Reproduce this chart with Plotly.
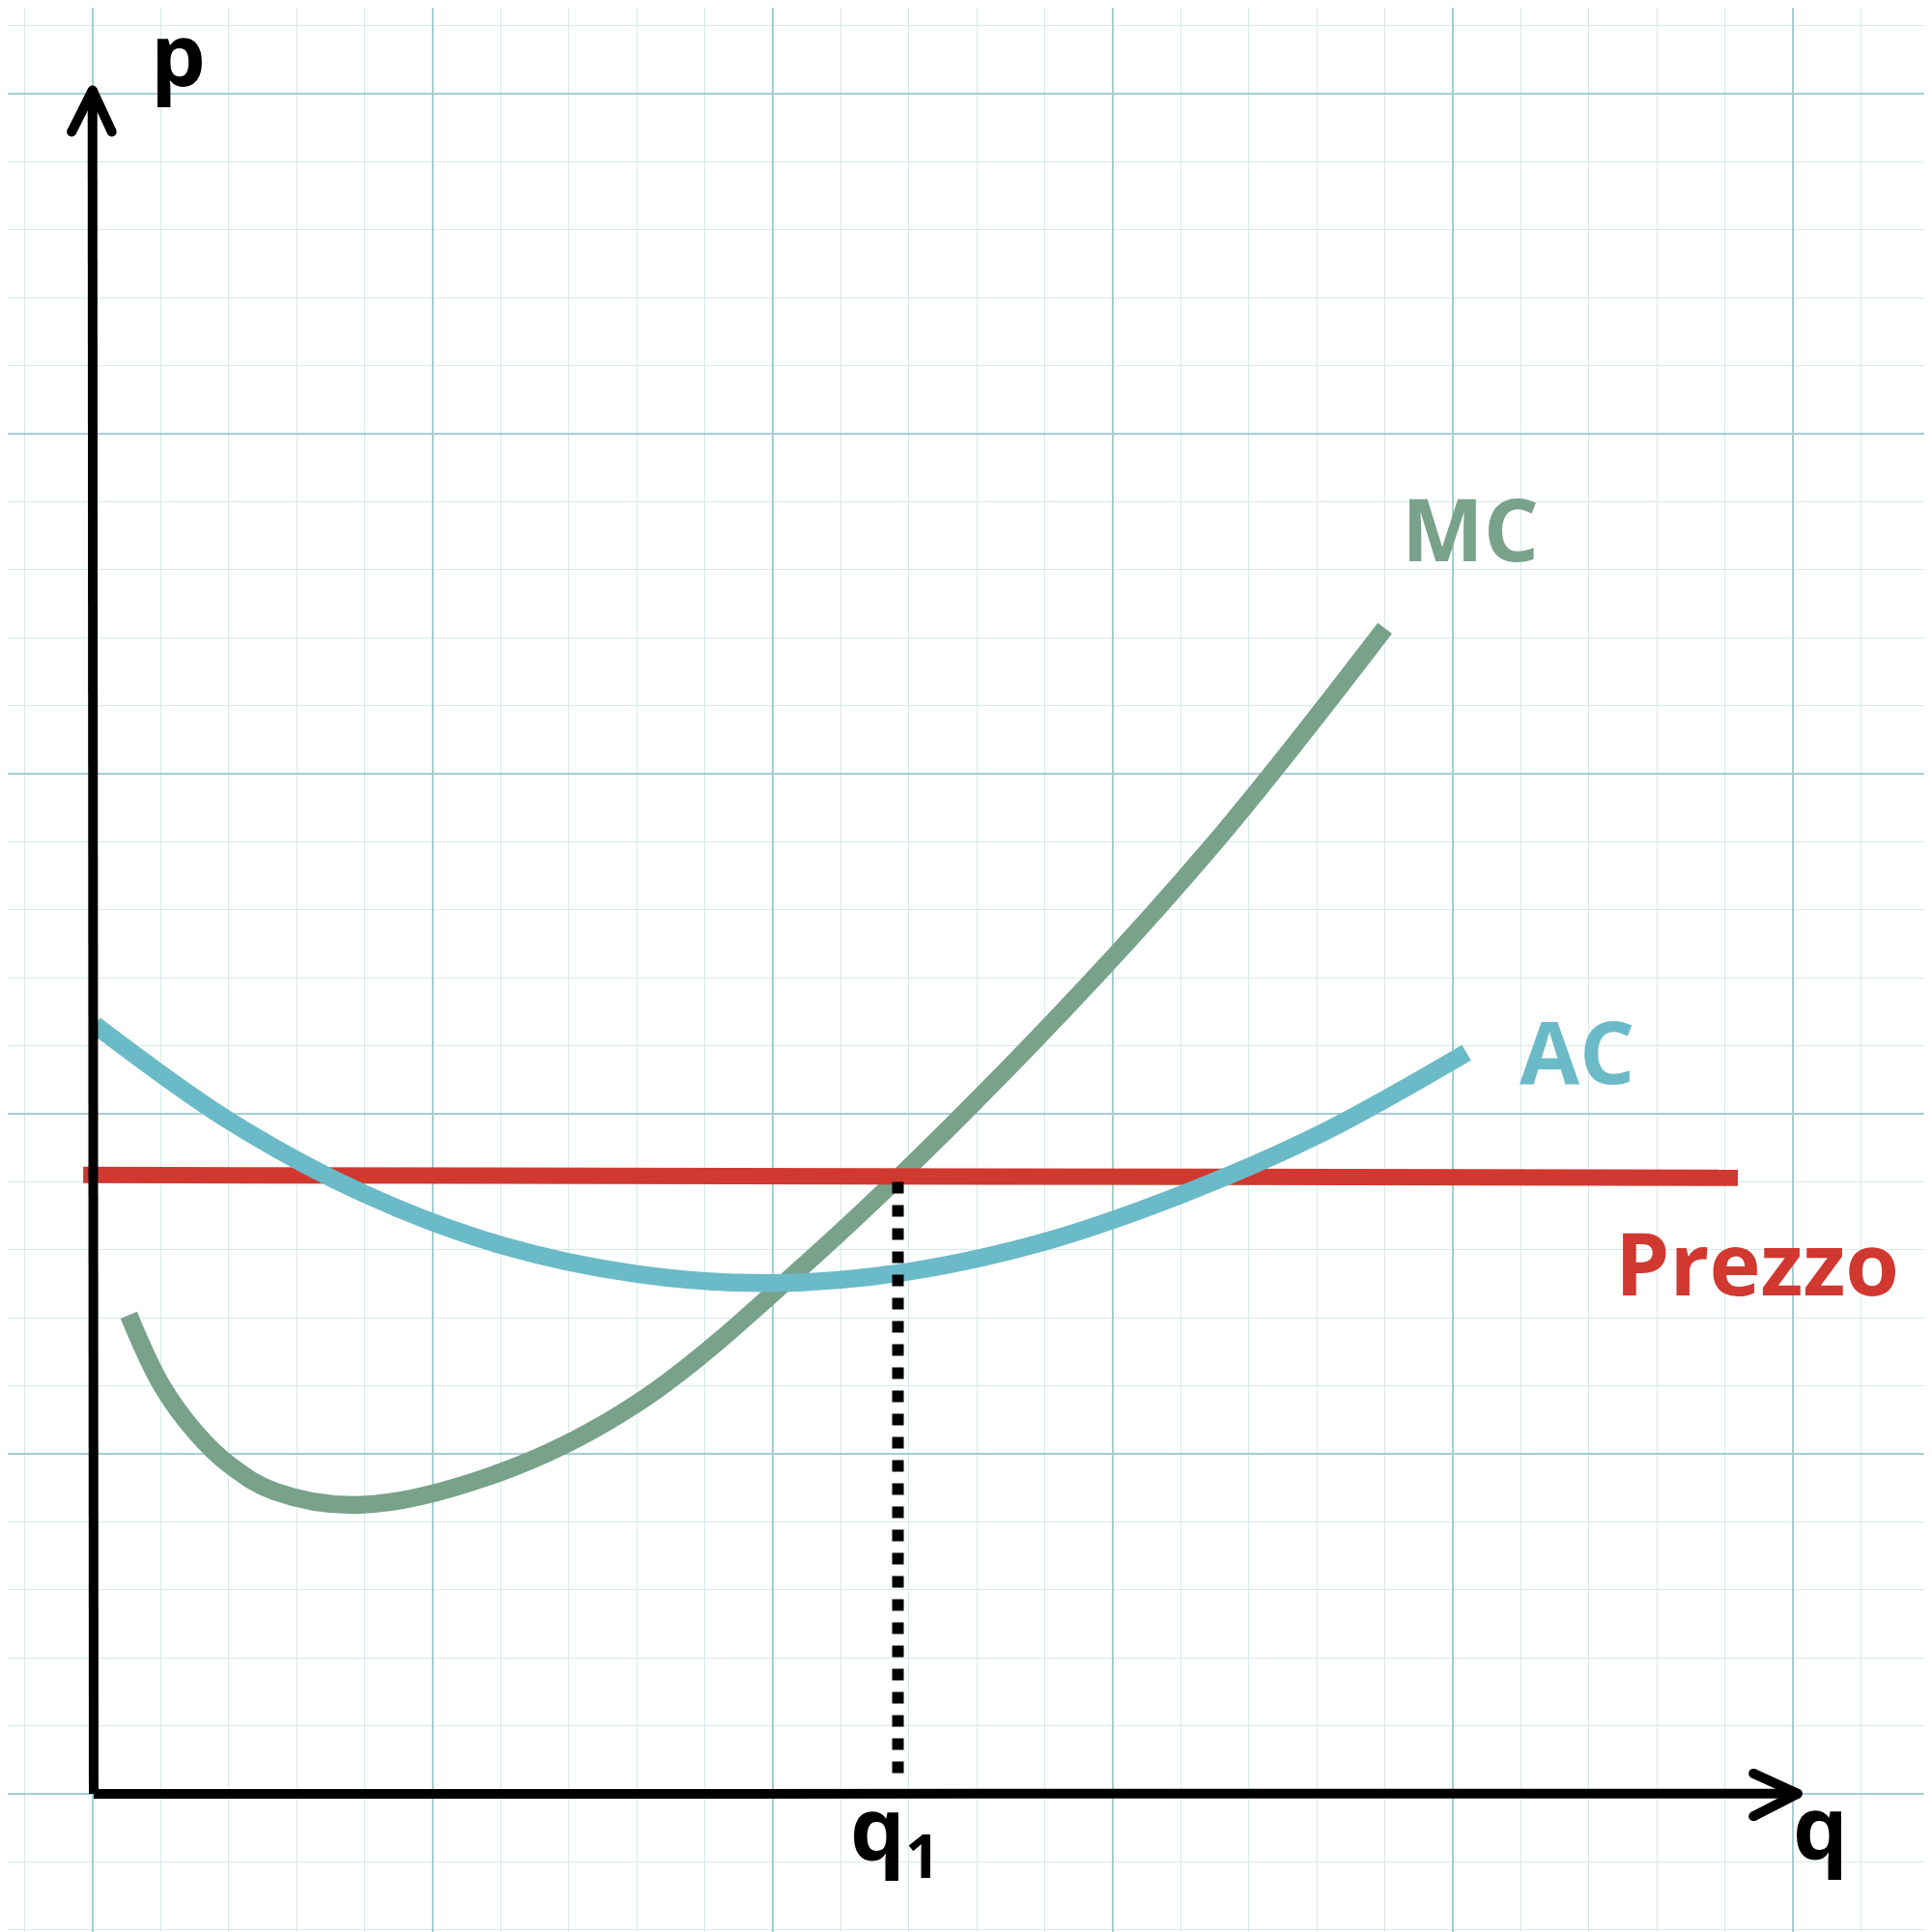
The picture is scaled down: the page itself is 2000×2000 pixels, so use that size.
import plotly.graph_objects as go

# grid units: 1 minor square = 1 unit, origin at the axes corner
mc_q = [0.53, 1.0, 1.51, 2.02, 2.67, 3.95, 6.0, 8.03, 10.71, 13.78, 16.51, 19.0]
mc_p = [7.04, 6.03, 5.32, 4.83, 4.45, 4.25, 4.73, 5.76, 8.0, 11.0, 14.0, 17.14]

ac_q = [0.03, 2.02, 3.98, 6.0, 8.03, 10.0, 12.0, 14.0, 16.0, 18.0, 20.2]
ac_p = [11.31, 9.89, 8.83, 8.07, 7.64, 7.51, 7.68, 8.12, 8.81, 9.68, 10.9]

prezzo_q = [-0.14, 24.19]
prezzo_p = [9.10, 9.06]

q1 = 11.84
q1_top = 9.0
q1_bottom = 0.28

y_axis_q = [0.014, -0.004]
y_axis_p = [0.0, 25.05]
x_axis_q = [0.014, 25.07]
x_axis_p = [0.0, 0.004]
y_head_q = [-0.31, -0.004, 0.28]
y_head_p = [24.44, 25.05, 24.44]
x_head_q = [24.42, 25.07, 24.42]
x_head_p = [0.30, 0.004, -0.33]

MC_COLOR = "#78a28a"
AC_COLOR = "#6bbac8"
RED = "#d03830"

fig = go.Figure()

# curves
fig.add_trace(go.Scatter(x=mc_q, y=mc_p, mode="lines",
                         line=dict(color=MC_COLOR, width=18.5, shape="spline", smoothing=1.0)))
fig.add_trace(go.Scatter(x=prezzo_q, y=prezzo_p, mode="lines", line=dict(color=RED, width=17)))
fig.add_trace(go.Scatter(x=ac_q, y=ac_p, mode="lines",
                         line=dict(color=AC_COLOR, width=18.5, shape="spline", smoothing=1.0)))

# dotted guide at q1
fig.add_trace(go.Scatter(x=[q1, q1], y=[q1_top, q1_bottom], mode="lines",
                         line=dict(color="black", width=12, dash="dot")))

# axes with arrow heads (markers give the round ends)
fig.add_trace(go.Scatter(x=y_axis_q, y=y_axis_p, mode="lines", line=dict(color="black", width=10)))
fig.add_trace(go.Scatter(x=x_axis_q, y=x_axis_p, mode="lines", line=dict(color="black", width=10)))
for hq, hp in [(y_head_q, y_head_p), (x_head_q, x_head_p)]:
    fig.add_trace(go.Scatter(x=hq, y=hp, mode="lines+markers", line=dict(color="black", width=10),
                             marker=dict(color="black", size=10)))

label_font = dict(family="Open Sans", size=90, weight=700)
labels = [
    ("p", 1.26, 25.61, "black"),
    ("q", 25.41, -0.46, "black"),
    ("q<sub>1</sub>", 11.80, -0.55, "black"),
    ("MC", 20.26, 18.62, MC_COLOR),
    ("AC", 21.82, 10.94, AC_COLOR),
    ("Prezzo", 24.47, 7.82, RED),
]
for text, x, y, col in labels:
    fig.add_annotation(x=x, y=y, text=text, showarrow=False, xanchor="center", yanchor="middle",
                       font=dict(label_font, color=col))

# the page body has an 8px margin, so the figure is 1992px and the ranges start there
fig.update_xaxes(range=[-1.25, 27.045], dtick=5, tick0=0, showgrid=True, gridcolor="#a6cdd2", gridwidth=1.5,
                 minor=dict(dtick=1, tick0=0, showgrid=True, gridcolor="#d6e9eb", gridwidth=1),
                 showticklabels=False, zeroline=False, showline=False, ticks="")
fig.update_yaxes(range=[-2.031, 26.264], dtick=5, tick0=0, showgrid=True, gridcolor="#a6cdd2", gridwidth=1.5,
                 minor=dict(dtick=1, tick0=0, showgrid=True, gridcolor="#d6e9eb", gridwidth=1),
                 showticklabels=False, zeroline=False, showline=False, ticks="")

fig.update_layout(width=1992, height=1992, margin=dict(l=0, r=0, t=0, b=0),
                  paper_bgcolor="white", plot_bgcolor="white", showlegend=False)

fig.write_html("out.html")
